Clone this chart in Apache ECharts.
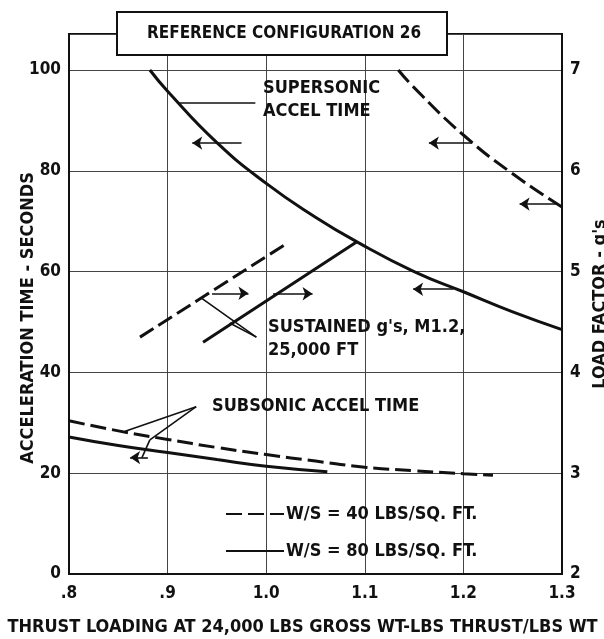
<!DOCTYPE html>
<html>
<head>
<meta charset="utf-8">
<script src="https://cdn.jsdelivr.net/npm/echarts@6/dist/echarts.min.js"></script>
<style>
html,body{margin:0;padding:0;background:#fff;}
#c{width:604px;height:639px;}
</style>
</head>
<body>
<div id="c"></div>
<script>
// ---- data ----
const xTickLabels = {'0.8':'.8','0.9':'.9','1':'1.0','1.1':'1.1','1.2':'1.2','1.3':'1.3'};
const leftTicks = [0,20,40,60,80,100];
const rightTicks = [2,3,4,5,6,7];

// supersonic accel time (seconds, left axis)
const superX80 = [0.882,0.9,0.95,1.0,1.05,1.092,1.15,1.2,1.25,1.3];
const superT80 = [100,95.8,85.6,77.5,70.8,65.9,60.0,56.0,52.0,48.5];
const superX40 = [1.134,1.15,1.2,1.25,1.3];
const superT40 = [100,96.5,87.1,79.4,72.8];

// subsonic accel time (seconds, left axis)
const subX40 = [0.8,0.85,0.9,0.95,1.0,1.05,1.1,1.15,1.2,1.23];
const subT40 = [30.4,28.4,26.7,25.1,23.7,22.4,21.2,20.5,19.9,19.6];
const subX80 = [0.8,0.85,0.9,0.95,1.0,1.062];
const subT80 = [27.2,25.5,24.1,22.7,21.4,20.3];

// sustained g's at M1.2, 25,000 ft (load factor, right axis)
const sustX40 = [0.872,1.021];
const sustG40 = [4.35,5.28];
const sustX80 = [0.936,1.092];
const sustG80 = [4.30,5.295];

// arrows pointing to the axis that applies: [xFrom, xTo, y(left axis units)]
const arrows = [
  [0.975,0.925,85.5],
  [1.209,1.165,85.5],
  [1.295,1.257,73.4],
  [0.945,0.982,55.7],
  [1.007,1.047,55.6],
  [1.190,1.149,56.5],
  [0.880,0.862,23.1]
];
// leader lines from labels to curves: polylines in (x, left axis units)
const leaders = [
  [[0.912,93.5],[0.989,93.5]],
  [[0.990,47.0],[0.934,54.8]],
  [[0.990,47.0],[0.963,49.8]],
  [[0.929,33.2],[0.857,28.3]],
  [[0.929,33.2],[0.882,26.6],[0.874,23.1]]
];

const NAME40 = 'W/S = 40 LBS/SQ. FT.';
const NAME80 = 'W/S = 80 LBS/SQ. FT.';
const FONT = '"DejaVu Sans Condensed", "DejaVu Sans", sans-serif';
const FW = 'bold';
const INK = '#111';

function zip(xs, ys){ return xs.map((x,i)=>[x,ys[i]]); }

const markData = [];
arrows.forEach(a=>{
  markData.push([{coord:[a[0],a[2]], symbol:'none'},{coord:[a[1],a[2]], symbol:'arrow'}]);
});
leaders.forEach(pl=>{
  for(let i=0;i<pl.length-1;i++){
    markData.push([{coord:pl[i], symbol:'none'},{coord:pl[i+1], symbol:'none'}]);
  }
});

const dashStyle = {color:INK, width:3, type:[16,6]};
const solidStyle = {color:INK, width:3, type:'solid'};

function lineSeries(name, data, style, yIdx){
  return {
    type:'line', name:name, data:data, xAxisIndex:0, yAxisIndex:yIdx,
    showSymbol:false, symbol:'none', smooth:true, lineStyle:style,
    itemStyle:{color:INK}, silent:true, z:3
  };
}
const txt = (size, extra)=>Object.assign({fontFamily:FONT, fontWeight:FW, fontSize:size, color:INK}, extra||{});
const gtxt = (x, y, text, size, extra)=>({type:'text', x:x, y:y, z:101,
  style:Object.assign({text:text, fontFamily:FONT, fontWeight:FW, fontSize:size, fill:INK, align:'left', verticalAlign:'middle'}, extra||{})});

const chart = echarts.init(document.getElementById('c'), null, {renderer:'canvas'});
const option = {
  animation:false,
  backgroundColor:'#fff',
  textStyle:{fontFamily:FONT},
  grid:{left:69, right:42, top:34, bottom:65, containLabel:false, outerBoundsMode:'none',
        show:true, borderColor:INK, borderWidth:2, backgroundColor:'transparent'},
  legend:{
    data:[NAME40, NAME80], orient:'vertical', left:225, top:505, padding:0,
    itemWidth:58, itemHeight:14, itemGap:19, selectedMode:false,
    itemStyle:{opacity:0, borderWidth:0},
    textStyle:txt(18, {padding:[0,0,0,-3]})
  },
  xAxis:{
    type:'value', min:0.8, max:1.3, interval:0.1,
    name:'THRUST LOADING AT 24,000 LBS GROSS WT-LBS THRUST/LBS WT',
    nameLocation:'middle', nameGap:44,
    nameTextStyle:txt(18, {padding:[0,26,0,0]}),
    axisLine:{show:true, lineStyle:{color:INK, width:2}},
    axisTick:{show:false},
    axisLabel:Object.assign({margin:11,
      formatter:v=>{const k=String(Math.round(v*10)/10); return xTickLabels[k]!==undefined?xTickLabels[k]:'';}}, txt(17)),
    splitLine:{show:true, lineStyle:{color:'#444', width:1}}
  },
  yAxis:[{
    type:'value', min:0, max:107.14, interval:20, position:'left',
    name:'ACCELERATION TIME - SECONDS', nameLocation:'middle', nameGap:32, nameRotate:90,
    nameMoveOverlap:false,
    nameTextStyle:txt(18, {padding:[0,28,0,0]}),
    axisLine:{show:true, lineStyle:{color:INK, width:2}},
    axisTick:{show:false},
    axisLabel:Object.assign({margin:8,
      formatter:v=>leftTicks.indexOf(Math.round(v))>=0 && Math.abs(v-Math.round(v))<1e-6 ? String(Math.round(v)) : ''}, txt(17)),
    splitLine:{show:true, lineStyle:{color:'#444', width:1}}
  },{
    type:'value', min:2, max:7.357, interval:1, position:'right',
    name:"LOAD FACTOR - g's", nameLocation:'middle', nameGap:28, nameRotate:90,
    nameTextStyle:txt(18),
    axisLine:{show:true, lineStyle:{color:INK, width:2}},
    axisTick:{show:false},
    axisLabel:Object.assign({margin:8,
      formatter:v=>rightTicks.indexOf(Math.round(v))>=0 && Math.abs(v-Math.round(v))<1e-6 ? String(Math.round(v)) : ''}, txt(17)),
    splitLine:{show:false}
  }],
  series:[
    lineSeries(NAME80, zip(superX80, superT80), solidStyle, 0),
    lineSeries(NAME40, zip(superX40, superT40), dashStyle, 0),
    lineSeries(NAME40, zip(subX40, subT40), dashStyle, 0),
    lineSeries(NAME80, zip(subX80, subT80), solidStyle, 0),
    lineSeries(NAME40, zip(sustX40, sustG40), dashStyle, 1),
    lineSeries(NAME80, zip(sustX80, sustG80), solidStyle, 1),
    {
      type:'line', name:'annotations', data:[], xAxisIndex:0, yAxisIndex:0, silent:true,
      markLine:{
        silent:true, animation:false, symbolSize:10, precision:4,
        label:{show:false}, emphasis:{disabled:true},
        lineStyle:{color:INK, width:1.6, type:'solid'},
        data:markData
      }
    }
  ],
  graphic:[
    {type:'rect', shape:{x:117, y:12, width:330, height:43}, style:{fill:'#fff', stroke:INK, lineWidth:2}, z:100},
    gtxt(284, 34, 'REFERENCE CONFIGURATION 26', 17, {align:'center'}),
    gtxt(263, 100, 'SUPERSONIC\nACCEL TIME', 18, {lineHeight:23}),
    gtxt(268, 339, "SUSTAINED g's, M1.2,\n25,000 FT", 18, {lineHeight:23}),
    gtxt(212, 406, 'SUBSONIC ACCEL TIME', 18)
  ]
};
chart.setOption(option);
</script>
</body>
</html>
